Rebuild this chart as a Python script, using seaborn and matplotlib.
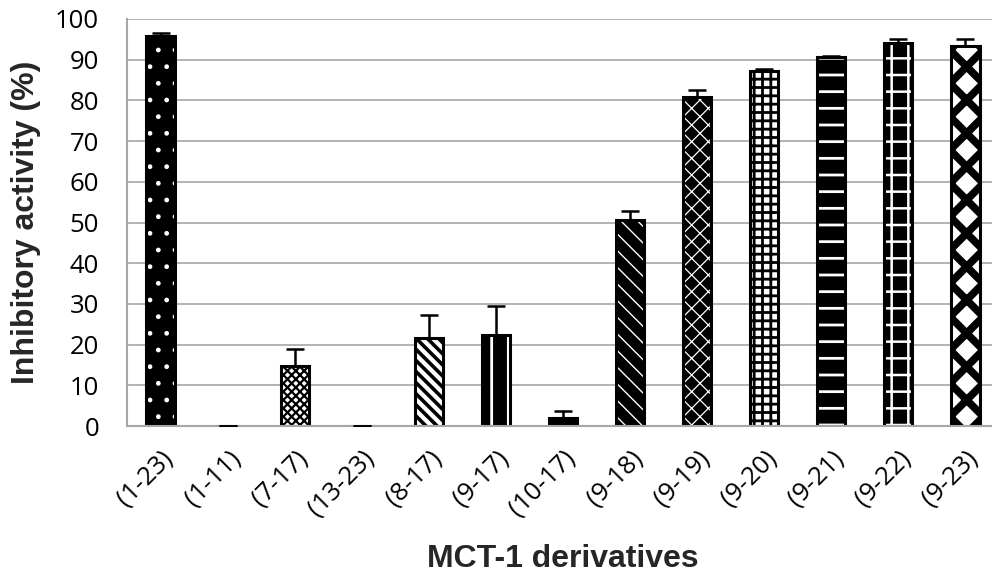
import numpy as np
import matplotlib
matplotlib.use("Agg")
import matplotlib.pyplot as plt
import seaborn as sns

categories = ["(1-23)", "(1-11)", "(7-17)", "(13-23)", "(8-17)", "(9-17)", "(10-17)",
              "(9-18)", "(9-19)", "(9-20)", "(9-21)", "(9-22)", "(9-23)"]
values = [95.8, 0.0, 14.7, 0.0, 21.6, 22.4, 2.0, 50.6, 80.8, 87.2, 90.7, 94.1, 93.4]
errors_up = [0.8, 0.0, 4.2, 0.0, 5.7, 7.1, 1.7, 2.2, 1.8, 0.5, 0.2, 1.0, 1.7]
y_ticks = [0, 10, 20, 30, 40, 50, 60, 70, 80, 90, 100]

# (face colour, hatch colour, hatch, hatch linewidth)
styles = [
    ("black", "white", ".", 1.0),
    ("black", "white", "", 1.0),
    ("white", "black", "xxxx", 1.6),
    ("black", "white", "", 1.0),
    ("white", "black", "\\\\\\", 2.6),
    ("black", "white", "|", 2.0),
    ("black", "white", "", 1.0),
    ("black", "white", "\\\\", 1.0),
    ("black", "white", "xx", 0.9),
    ("white", "black", "++", 2.0),
    ("black", "white", "-", 2.0),
    ("black", "white", "+", 1.8),
    ("white", "black", "x", 5.5),
]

sns.set_theme(style="white")
plt.rcParams["hatch.linewidth"] = 1.8
plt.rcParams["font.family"] = ["Open Sans", "DejaVu Sans"]

fig = plt.figure(figsize=(9.92, 5.83), dpi=100)
ax = fig.add_axes([127 / 992, 1 - 426 / 583, (999 - 127) / 992, (426 - 19) / 583])

grid_c = "#A6A6A6"
ax.set_axisbelow(True)
ax.yaxis.grid(True, color=grid_c, linewidth=1.2)

bw = 0.42
sns.barplot(x=categories, y=values, color="black", width=bw, errorbar=None, ax=ax,
            saturation=1)
n = len(categories)
for p, (fc, hc, h, hlw) in zip(ax.patches[:n], styles):
    p.set_facecolor(fc)
    p.set_edgecolor(hc)
    p.set_linewidth(0)
    p.set_hatch(h)
    if hasattr(p, "set_hatch_linewidth"):
        p.set_hatch_linewidth(hlw)

sns.barplot(x=categories, y=values, color="black", width=bw, errorbar=None, ax=ax,
            fill=False, linewidth=2.2, edgecolor="black")
for p in ax.patches[n:]:
    p.set_facecolor("none")
    p.set_edgecolor("black")
    p.set_linewidth(2.2)

ax.errorbar(x=np.arange(n), y=values, yerr=[np.zeros(n), errors_up], fmt="none",
            ecolor="black", elinewidth=1.8, capsize=6.2, capthick=1.8, zorder=5)

ax.set_xlim(-0.5, n - 0.5)
ax.set_ylim(0, 100)
ax.set_yticks(y_ticks)
ax.set_yticklabels([str(t) for t in y_ticks])

for s in ["top", "right"]:
    ax.spines[s].set_visible(False)
for s in ["left", "bottom"]:
    ax.spines[s].set_color(grid_c)
    ax.spines[s].set_linewidth(1.5)

ax.tick_params(axis="both", which="both", direction="out", length=6, width=1.5,
               color=grid_c, labelsize=18.5, labelcolor="black")
ax.tick_params(axis="y", pad=14)
ax.tick_params(axis="x", pad=8)
plt.setp(ax.get_xticklabels(), rotation=45, ha="right", rotation_mode="anchor")

ax.set_xlabel("MCT-1 derivatives", fontsize=23, fontweight="bold",
              family=["Liberation Sans", "DejaVu Sans"], labelpad=16)
ax.set_ylabel("Inhibitory activity (%)", fontsize=23, fontweight="bold",
              family=["Liberation Sans", "DejaVu Sans"], labelpad=10)

fig.savefig("out.png", dpi=100)
